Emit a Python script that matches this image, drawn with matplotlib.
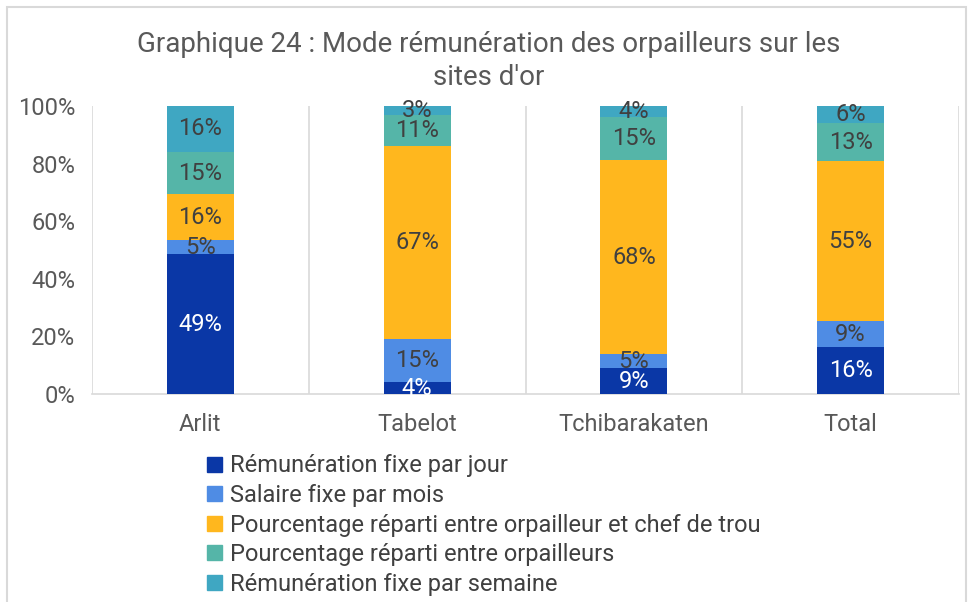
import numpy as np
import matplotlib
matplotlib.use("Agg")
import matplotlib.pyplot as plt
from matplotlib.patches import Rectangle, Patch

plt.rcParams['font.family'] = ['Roboto', 'DejaVu Sans']

sites = ["Arlit", "Tabelot", "Tchibarakaten", "Total"]
series_names = [
    "Rémunération fixe par jour",
    "Salaire fixe par mois",
    "Pourcentage réparti entre orpailleur et chef de trou",
    "Pourcentage réparti entre orpailleurs",
    "Rémunération fixe par semaine",
]
par_jour = [49, 4, 9, 16]
par_mois = [5, 15, 5, 9]
chef_trou = [16, 67, 68, 55]
entre_orpailleurs = [15, 11, 15, 13]
par_semaine = [16, 3, 4, 6]

colors = ["#0A37A6", "#4F8CE4", "#FFB71E", "#55B5A8", "#3FA7C2"]
label_colors = ["white", "#404040", "#404040", "#404040", "#404040"]

series = [par_jour, par_mois, chef_trou, entre_orpailleurs, par_semaine]
vals = np.array(series, dtype=float)
shares = vals / vals.sum(axis=0) * 100

fig = plt.figure(figsize=(9.69, 6.02), dpi=100)
ax = fig.add_axes([92 / 969, 1 - 394 / 602, (959 - 92) / 969, (394 - 106) / 602])

# outer frame
fig.patches.append(Rectangle((7 / 969, -0.05), (966 - 7) / 969, 1.05 - 7 / 602,
                             transform=fig.transFigure, fill=False,
                             edgecolor="#d9d9d9", linewidth=1.5))

x = np.arange(len(sites))
bottom = np.zeros(len(sites))
for i, name in enumerate(series_names):
    ax.bar(x, shares[i], 0.31, bottom=bottom, color=colors[i], label=name, zorder=3)
    for j in range(len(sites)):
        ax.text(x[j], bottom[j] + shares[i][j] / 2, f"{int(vals[i][j])}%",
                ha="center", va="center", fontsize=17, color=label_colors[i], zorder=4)
    bottom += shares[i]

ax.set_xlim(-0.5, len(sites) - 0.5)
ax.set_ylim(0, 100)
ax.set_yticks(range(0, 101, 20))
ax.set_yticklabels([f"{v}%" for v in range(0, 101, 20)], fontsize=17, color="#595959")
ax.set_xticks(x)
ax.set_xticklabels(sites, fontsize=17, color="#595959")
ax.tick_params(axis="x", length=0, pad=14)
ax.tick_params(axis="y", length=0, pad=12)
for b in np.arange(-0.5, len(sites), 1.0):
    ax.axvline(b, color="#d9d9d9", linewidth=1.2, zorder=1)
for s in ["top", "right", "left"]:
    ax.spines[s].set_visible(False)
ax.spines["bottom"].set_color("#d9d9d9")
ax.spines["bottom"].set_linewidth(1.2)

fig.text(489 / 969, 1 - 61 / 602,
         "Graphique 24 : Mode rémunération des orpailleurs sur les\nsites d'or",
         ha="center", va="center", fontsize=20, color="#595959", linespacing=1.25)

handles = [Patch(color=c) for c in colors]
fig.legend(handles, series_names, loc="upper left",
           bbox_to_anchor=(198 / 969, 1 - 445 / 602), frameon=False,
           fontsize=17, labelcolor="#404040", handlelength=0.6, handleheight=0.6,
           handletextpad=0.35, labelspacing=0.28, borderaxespad=0)

fig.savefig("out.png", dpi=100)
